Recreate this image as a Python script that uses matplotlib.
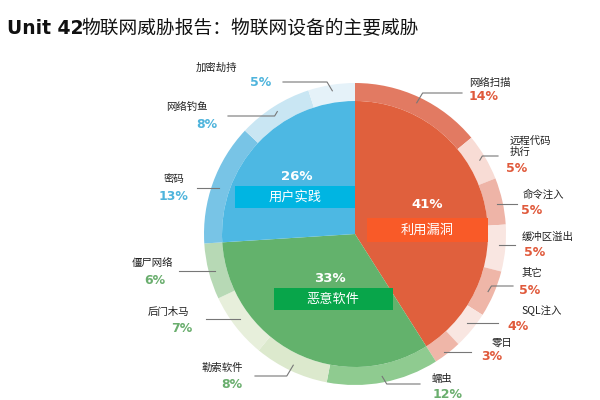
import numpy as np
import matplotlib
matplotlib.use("Agg")
import matplotlib.pyplot as plt
from matplotlib.patches import Rectangle

plt.rcParams['font.family'] = ['Noto Sans CJK SC', 'DejaVu Sans']

# inner pie
groups = ["利用漏洞", "恶意软件", "用户实践"]
group_vals = [41, 33, 26]
group_colors = ["#e0603d", "#63b26c", "#4db8e3"]
box_colors = ["#f95a28", "#08a54a", "#00b5e2"]
pct_colors = ["#e05a3c", "#6aae6e", "#4fb4dc"]

# outer ring (clockwise from top)
subs = ["网络扫描", "远程代码\n执行", "命令注入", "缓冲区溢出", "其它", "SQL注入", "零日",
        "蠕虫", "勒索软件", "后门木马", "僵尸网络",
        "密码", "网络钓鱼", "加密劫持"]
sub_vals = [14, 5, 5, 5, 5, 4, 3, 12, 8, 7, 6, 13, 8, 5]
sub_group = [0, 0, 0, 0, 0, 0, 0, 1, 1, 1, 1, 2, 2, 2]
sub_colors = ["#e27a62", "#f8dcd5", "#eeb4a7", "#f9e6e1", "#efb6a8", "#f9e6e1", "#efb6a8",
              "#8fcb90", "#dce9cd", "#e7efdb", "#b7d9b5",
              "#78c4e6", "#c9e6f3", "#e5f2f9"]

# layout (pixel coords, y down)
cx, cy, r_out, r_in = 355, 234, 151, 133
name_pos = [(490, 83), (510, 146), (543, 195), (548, 237), (532, 273), (542, 311), (502, 343),
            (442, 379), (222, 368), (168, 312), (152, 263),
            (174, 179), (187, 107), (216, 68)]
pct_pos = [(484, 97), (517, 168), (532, 210), (535, 253), (530, 291), (518, 327), (492, 357),
           (448, 394), (232, 385), (182, 328), (155, 280),
           (173, 196), (207, 125), (261, 82)]
lead = [(93, 462), (156, 498), (204, 517), (245, 515), (286, 513), (323, 498), (352, 471),
        (384, 420), (376, 255), (319, 206), (271, 179),
        (188, 197), (116, 228), (82, 283)]
group_pct_pos = [(427, 204), (330, 278), (297, 177)]
group_box = [(367, 218, 121, 24), (274, 288, 119, 22), (235, 186, 120, 22)]
group_txt_pos = [(427, 230), (333, 299), (295, 197)]

fig = plt.figure(figsize=(6, 4), dpi=100)
ax = fig.add_axes([0, 0, 1, 1])

ax.pie(sub_vals, colors=sub_colors, startangle=-90, counterclock=True,
       center=(cx, cy), radius=r_out, wedgeprops=dict(width=r_out - r_in, linewidth=0))
ax.pie(group_vals, colors=group_colors, startangle=-90, counterclock=True,
       center=(cx, cy), radius=r_in, wedgeprops=dict(linewidth=0))
ax.set_xlim(0, 600)
ax.set_ylim(400, 0)
ax.set_aspect('equal')
ax.axis('off')

# inner labels
for i, g in enumerate(groups):
    x, y, w, h = group_box[i]
    ax.add_patch(Rectangle((x, y), w, h, color=box_colors[i], lw=0, zorder=3))
    ax.text(*group_pct_pos[i], f"{group_vals[i]}%", color="white", fontsize=9.5,
            fontweight="bold", family=['DejaVu Sans'], ha="center", va="center", zorder=4)
    ax.text(*group_txt_pos[i], g, color="white", fontsize=9.5, ha="center", va="center", zorder=4)

# outer labels with leaders
total = sum(sub_vals)
cum = np.cumsum([0] + sub_vals)
for i, s in enumerate(subs):
    mid = (cum[i] + cum[i + 1]) / 2 / total
    phi = np.deg2rad(90 - 360 * mid)
    px, py = cx + 145 * np.cos(phi), cy - 145 * np.sin(phi)
    ly, lx = lead[i]
    sgn = 1 if lx > px else -1
    dy = abs(py - ly)
    if dy > 4:
        xs = [px, px + sgn * dy * 0.6, lx]
        ys = [py, ly, ly]
    else:
        xs = [px, lx]
        ys = [ly, ly]
    ax.plot(xs, ys, color="#777777", lw=0.8, zorder=5)
    ha = "left" if "\n" in s else "center"
    ax.text(*name_pos[i], s, fontsize=7.5, color="#222222", ha=ha,
            va="center", linespacing=1.1, zorder=5)
    ax.text(*pct_pos[i], f"{sub_vals[i]}%", fontsize=9, fontweight="bold",
            family=['DejaVu Sans'], color=pct_colors[sub_group[i]], ha="center", va="center")

# title: heavy latin part, lighter CJK part
ax.text(7, 29, "Unit 42", fontsize=13.5, fontweight="bold",
        family=['DejaVu Sans'], color="#111111", ha="left", va="center")
ax.text(81, 29, "物联网威胁报告：物联网设备的主要威胁", fontsize=13.5, fontweight="medium",
        color="#111111", ha="left", va="center")

fig.savefig("out.png", dpi=100)
